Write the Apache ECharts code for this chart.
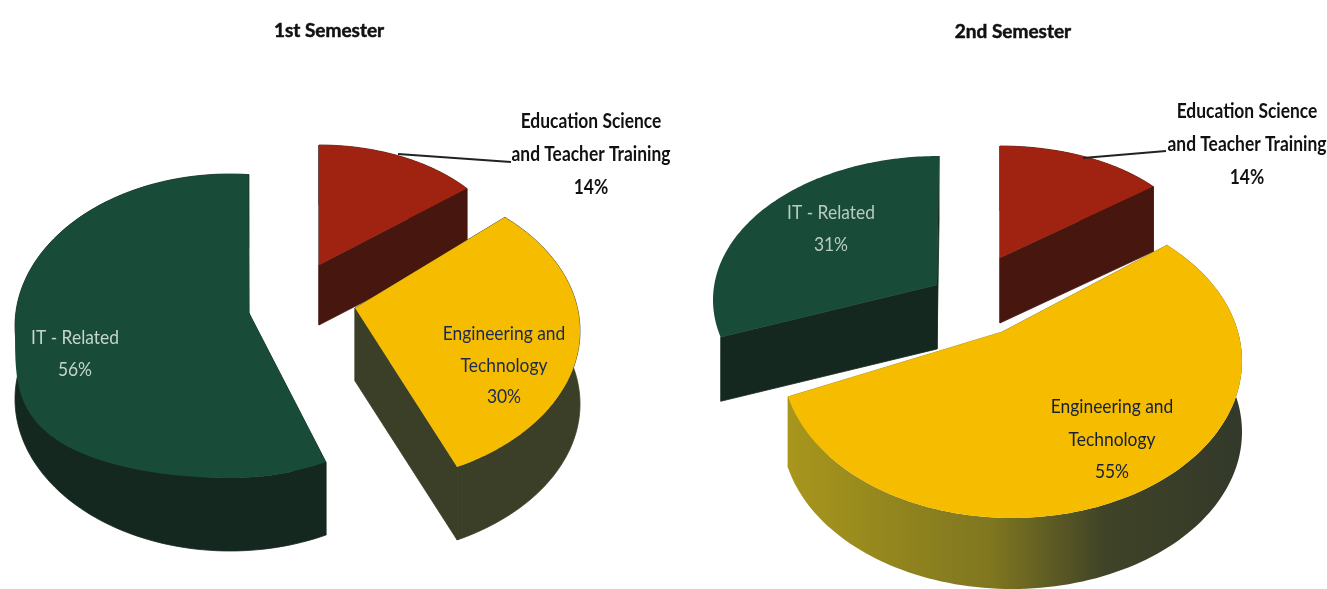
<!DOCTYPE html>
<html>
<head>
<meta charset="utf-8">
<style>html,body{margin:0;padding:0;background:#fff}#c{width:1327px;height:589px}</style>
<script src="https://cdn.jsdelivr.net/npm/echarts@6/dist/echarts.min.js"></script>
</head>
<body>
<div id="c"></div>
<script>
// ---- data ----
var titles = ['1st Semester', '2nd Semester'];
var categories = ['Education Science\nand Teacher Training', 'Engineering and\nTechnology', 'IT - Related'];
var semester1 = [14, 30, 56];
var semester2 = [14, 55, 31];

// ---- drawing layout (perspective of the scanned 3-D pies) ----
var FONT = 'Lato,"Open Sans",sans-serif';
var SQUEEZE = 0.87;
var RED = {top: '#9f2310', side: '#47160f'};
var GOLD = {top: '#f6bc00', side: '#3b3f27'};
var GREEN = {top: '#184b38', side: '#14281f'};
var GOLD_FADE = {type: 'linear', x: 0, y: 0, x2: 1, y2: 0, colorStops: [
  {offset: 0, color: '#a8961c'}, {offset: .45, color: '#7f7620'}, {offset: .7, color: '#3f4327'}, {offset: 1, color: '#33392a'}
]};
var layout1 = [
  {ax: 319, ay: 265, cx: 319, cy: 265, rx: 192, ry: 120, d: 60, rot: 0, k: 1, z: 1, c: RED,
   t: {x: 591, y: 122, lh: 33, fill: '#111', w: 'bold'}, line: [[398, 154], [511, 162]]},
  {ax: 355, ay: 308, cx: 353, cy: 331, rx: 227, ry: 153, d: 73, rot: -8.4, k: 1.025, z: 3, c: GOLD,
   t: {x: 504, y: 334, lh: 31.5, fill: '#182a55', w: 'normal'}},
  {ax: 249, ay: 313, cx: 230, cy: 326, rx: 215, ry: 152, d: 73, rot: -4.9, k: 1.049, z: 2, c: GREEN, bulge: 0.55,
   t: {x: 75, y: 338, lh: 32, fill: '#c5d6cd', w: 'normal'}}
];
var layout2 = [
  {ax: 1000, ay: 258, cx: 1000, cy: 258, rx: 199, ry: 112, d: 65, rot: 0, k: 1, z: 1, c: RED,
   t: {x: 1247, y: 112, lh: 33, fill: '#111', w: 'bold'}, line: [[1083, 158], [1166, 151]]},
  {ax: 1002, ay: 332, cx: 1012, cy: 361, rx: 230, ry: 157, d: 71, rot: -8, k: 1.083, z: 3,
   c: {top: GOLD.top, side: GOLD_FADE},
   t: {x: 1112, y: 407, lh: 32.5, fill: '#14203c', w: 'normal'}},
  {ax: 937, ay: 285, cx: 939, cy: 300, rx: 226, ry: 144, d: 64, rot: 6.6, k: 0.941, z: 2, c: GREEN, noStrip: true,
   t: {x: 831, y: 213, lh: 32, fill: '#b9ccc2', w: 'normal'}}
];

function arcPoints(L, t0, t1, bulge) {
  var pts = [], n = 120;
  for (var i = 0; i <= n; i++) {
    var deg = t0 + (t1 - t0) * i / n, a = deg * Math.PI / 180, c = Math.cos(a);
    // the front-left of a tilted slice sits lower than a plain ellipse
    var f = (bulge && deg > 180 && deg < 270) ? -Math.pow(-c, bulge) : c;
    pts.push([L.cx + L.rx * Math.sin(a), L.cy - L.ry * f]);
  }
  return pts;
}
function down(p, d) { return [p[0], p[1] + d]; }

function makeRender(values, layout) {
  return function (params, api) {
    var i = params.dataIndex, L = layout[i], v = api.value(0), cum = 0;
    for (var j = 0; j < i; j++) cum += values[j];
    var t0 = L.rot + cum * 3.6, t1 = t0 + v * 3.6 * L.k;
    var arc = arcPoints(L, t0, t1, L.bulge), d = L.d, apex = [L.ax, L.ay];
    var plain = arcPoints(L, t0, t1);
    var first = plain[0], last = plain[plain.length - 1];
    var lower = plain.map(function (p) { return down(p, d); }).reverse();
    var flat = typeof L.c.side === 'string';
    function cut(edge, fallback) {
      var col = flat ? L.c.side : fallback;
      return {type: 'polygon', z2: L.z, shape: {points: [apex, edge, down(edge, d), down(apex, d)]},
        style: {fill: col, stroke: col, lineWidth: 0.8}};
    }
    var kids = [cut(first, '#8f8420'), cut(last, '#a8961c')];
    if (!L.noStrip) {
      kids.push({type: 'polygon', z2: L.z, shape: {points: plain.concat(lower)},
        style: {fill: L.c.side, stroke: flat ? L.c.side : null, lineWidth: 0.8}});
    }
    kids.push({type: 'polygon', z2: L.z + 0.5, shape: {points: [apex].concat(arc)}, style: {fill: L.c.top}});
    if (L.line) {
      kids.push({type: 'polyline', z2: 9, shape: {points: L.line}, style: {stroke: '#222', lineWidth: 1.8, fill: 'none'}});
    }
    var lines = categories[i].split('\n').concat([v + '%']);
    lines.forEach(function (s, k) {
      kids.push({type: 'text', z2: 10, x: L.t.x, y: L.t.y + k * L.t.lh, scaleX: SQUEEZE, style: {
        text: s, x: 0, y: 0, align: 'center', verticalAlign: 'middle',
        fill: L.t.fill, font: L.t.w + ' 20px ' + FONT
      }});
    });
    return {type: 'group', children: kids};
  };
}

var titleStyle = {fontFamily: FONT, fontWeight: 'bold', fontSize: 19, color: '#111', textBorderColor: '#111', textBorderWidth: 0.5};
var chart = echarts.init(document.getElementById('c'), null, {renderer: 'canvas'});
chart.setOption({
  animation: false,
  backgroundColor: '#ffffff',
  title: [
    {text: titles[0], left: 324, top: 16, textAlign: 'center', textStyle: titleStyle},
    {text: titles[1], left: 1008, top: 17, textAlign: 'center', textStyle: titleStyle}
  ],
  series: [
    {type: 'custom', coordinateSystem: 'none', silent: true, data: semester1, renderItem: makeRender(semester1, layout1)},
    {type: 'custom', coordinateSystem: 'none', silent: true, data: semester2, renderItem: makeRender(semester2, layout2)}
  ]
});
</script>
</body>
</html>
